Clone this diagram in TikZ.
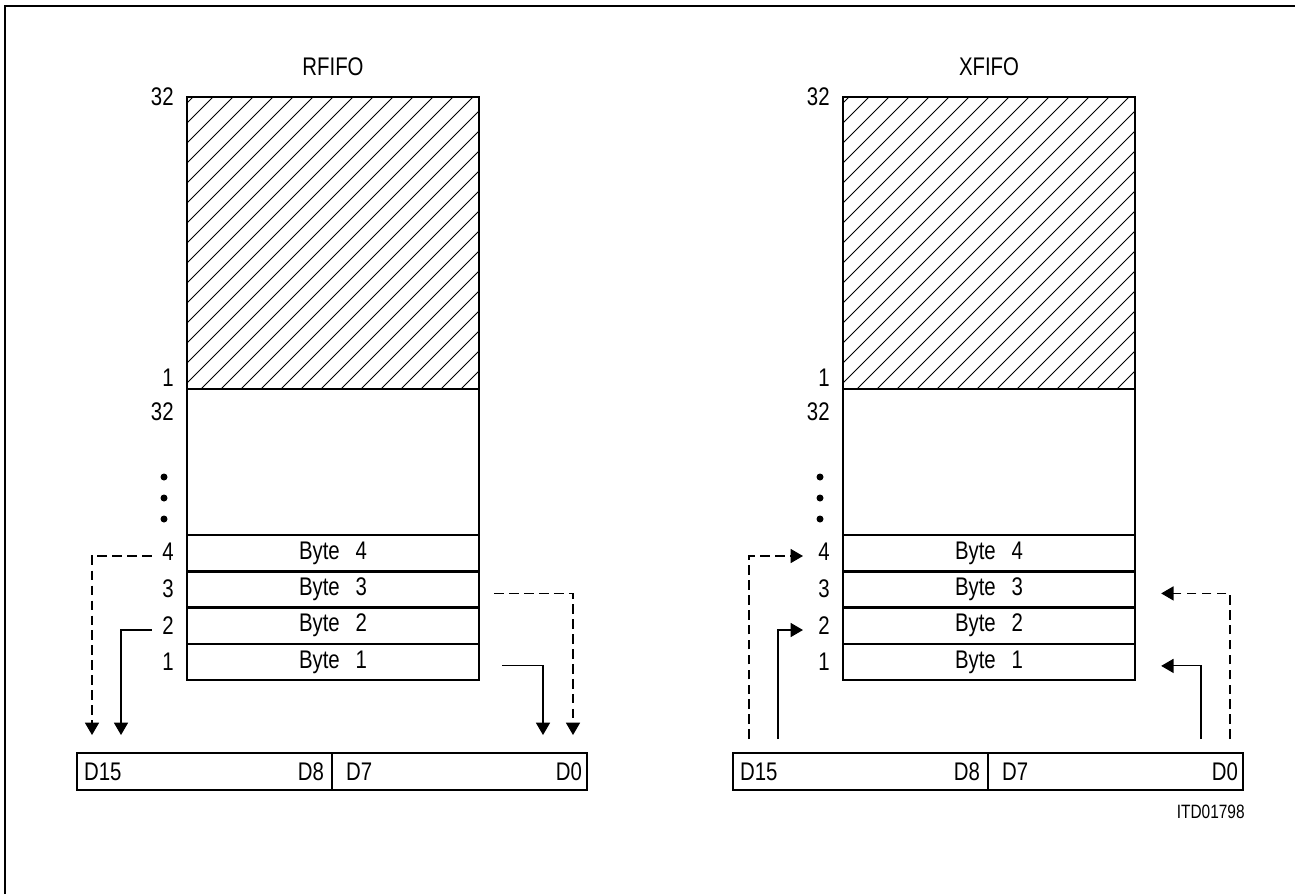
\documentclass[tikz,border=0pt]{standalone}
\usepackage{fontspec}
\setmainfont{Liberation Sans}[FakeStretch=0.8]
\usetikzlibrary{arrows.meta,calc}
\begin{document}
\begin{tikzpicture}[x=0.02cm,y=-0.02cm,
  box/.style={line width=1.4pt},
  thinl/.style={line width=0.6pt},
  lbl/.style={font=\fontsize{14.5}{14.5}\selectfont, inner sep=0pt},
  dsh/.style={thinl, dash pattern=on 5.5pt off 3pt},
  tip/.style={-{Triangle[length=7pt,width=8pt]}},
  hatch/.style={line width=0.45pt},
  row/.style={draw, box, minimum width=5.84cm, minimum height=0.725cm, inner sep=0pt, font=\fontsize{14.5}{14.5}\selectfont},
  reg/.style={draw, box, minimum width=5.1cm, minimum height=0.74cm, inner sep=0pt},
  blk/.style={draw, box, minimum width=5.84cm, inner sep=0pt},
  dot/.style={fill=black}]
\useasboundingbox (0,0) rectangle (1295,894);
\draw[box] (5,894) -- (5,6) -- (1295,6);

% ---------------- RFIFO ----------------
\node[lbl] (rt) at (333,67) {RFIFO};
\begin{scope}
  \clip (187,97) rectangle (479,389);
  \foreach \k in {290,310,...,870} \draw[hatch] ({\k-389},389) -- ({\k-97},97);
\end{scope}
\node[blk, minimum height=5.84cm] (rh) at (333,243) {};
\node[blk, minimum height=2.92cm] (re) at (333,462) {};
\node[row] (r4) at (333,553.1) {Byte\hspace{9pt}4};
\node[row] (r3) at (333,589.4) {Byte\hspace{9pt}3};
\node[row] (r2) at (333,625.6) {Byte\hspace{9pt}2};
\node[row] (r1) at (333,661.9) {Byte\hspace{9pt}1};
\node[lbl, anchor=east] (rl32a) at (174,97) {32};
\node[lbl, anchor=east] (rl1a) at (174,378) {1};
\node[lbl, anchor=east] (rl32b) at (174,412) {32};
\fill[dot] (164,477) circle[radius=0.07cm] (164,498) circle[radius=0.07cm] (164,519) circle[radius=0.07cm];
\node[lbl, anchor=east] (rl4) at (174,552) {4};
\node[lbl, anchor=east] (rl3) at (174,589) {3};
\node[lbl, anchor=east] (rl2) at (174,626) {2};
\node[lbl, anchor=east] (rl1) at (174,662) {1};
\node[reg] (rhi) at (204.5,771.5) {};
\node[reg] (rlo) at (459.5,771.5) {};
\node[lbl, anchor=west] (rd15) at ($(rhi.west)+(8,0)$) {D15};
\node[lbl, anchor=east] (rd8) at ($(rhi.east)+(-9,0)$) {D8};
\node[lbl, anchor=west] (rd7) at ($(rlo.west)+(15,0)$) {D7};
\node[lbl, anchor=east] (rd0) at ($(rlo.east)+(-6,0)$) {D0};
\coordinate (ra15d) at (92,735);
\coordinate (ra15s) at (121,735);
\coordinate (ra0s) at (543,735);
\coordinate (ra0d) at (573,735);
\draw[dsh,tip] ($(rl4.west)+(-10,4)$) -| (ra15d);
\draw[thinl,tip] ($(rl2.west)+(-10,4)$) -| (ra15s);
\draw[dsh,tip] ($(r3.east)+(14,4)$) -| (ra0d);
\draw[thinl,tip] ($(r1.east)+(22,4)$) -| (ra0s);

% ---------------- XFIFO ----------------
\node[lbl] (xt) at (989,67) {XFIFO};
\begin{scope}
  \clip (843,97) rectangle (1135,389);
  \foreach \k in {946,966,...,1526} \draw[hatch] ({\k-389},389) -- ({\k-97},97);
\end{scope}
\node[blk, minimum height=5.84cm] (xh) at (989,243) {};
\node[blk, minimum height=2.92cm] (xe) at (989,462) {};
\node[row] (x4) at (989,553.1) {Byte\hspace{9pt}4};
\node[row] (x3) at (989,589.4) {Byte\hspace{9pt}3};
\node[row] (x2) at (989,625.6) {Byte\hspace{9pt}2};
\node[row] (x1) at (989,661.9) {Byte\hspace{9pt}1};
\node[lbl, anchor=east] (xl32a) at (830,97) {32};
\node[lbl, anchor=east] (xl1a) at (830,378) {1};
\node[lbl, anchor=east] (xl32b) at (830,412) {32};
\fill[dot] (820,477) circle[radius=0.07cm] (820,498) circle[radius=0.07cm] (820,519) circle[radius=0.07cm];
\node[lbl, anchor=east] (xl4) at (830,552) {4};
\node[lbl, anchor=east] (xl3) at (830,589) {3};
\node[lbl, anchor=east] (xl2) at (830,626) {2};
\node[lbl, anchor=east] (xl1) at (830,662) {1};
\node[reg] (xhi) at (860.5,771.5) {};
\node[reg] (xlo) at (1115.5,771.5) {};
\node[lbl, anchor=west] (xd15) at ($(xhi.west)+(8,0)$) {D15};
\node[lbl, anchor=east] (xd8) at ($(xhi.east)+(-9,0)$) {D8};
\node[lbl, anchor=west] (xd7) at ($(xlo.west)+(15,0)$) {D7};
\node[lbl, anchor=east] (xd0) at ($(xlo.east)+(-6,0)$) {D0};
\coordinate (xs15d) at (749,739);
\coordinate (xs15s) at (778,739);
\coordinate (xs0s) at (1201,739);
\coordinate (xs0d) at (1230,739);
\draw[dsh,tip] (xs15d) |- ($(xl4.west)+(-15,4)$);
\draw[thinl,tip] (xs15s) |- ($(xl2.west)+(-15,4)$);
\draw[dsh,tip] (xs0d) |- ($(x3.east)+(25,4)$);
\draw[thinl,tip] (xs0s) |- ($(x1.east)+(25,4)$);

\node[font=\fontsize{11}{11}\selectfont, inner sep=0pt, anchor=east] (itd) at (1245,812) {ITD01798};
\end{tikzpicture}
\end{document}
